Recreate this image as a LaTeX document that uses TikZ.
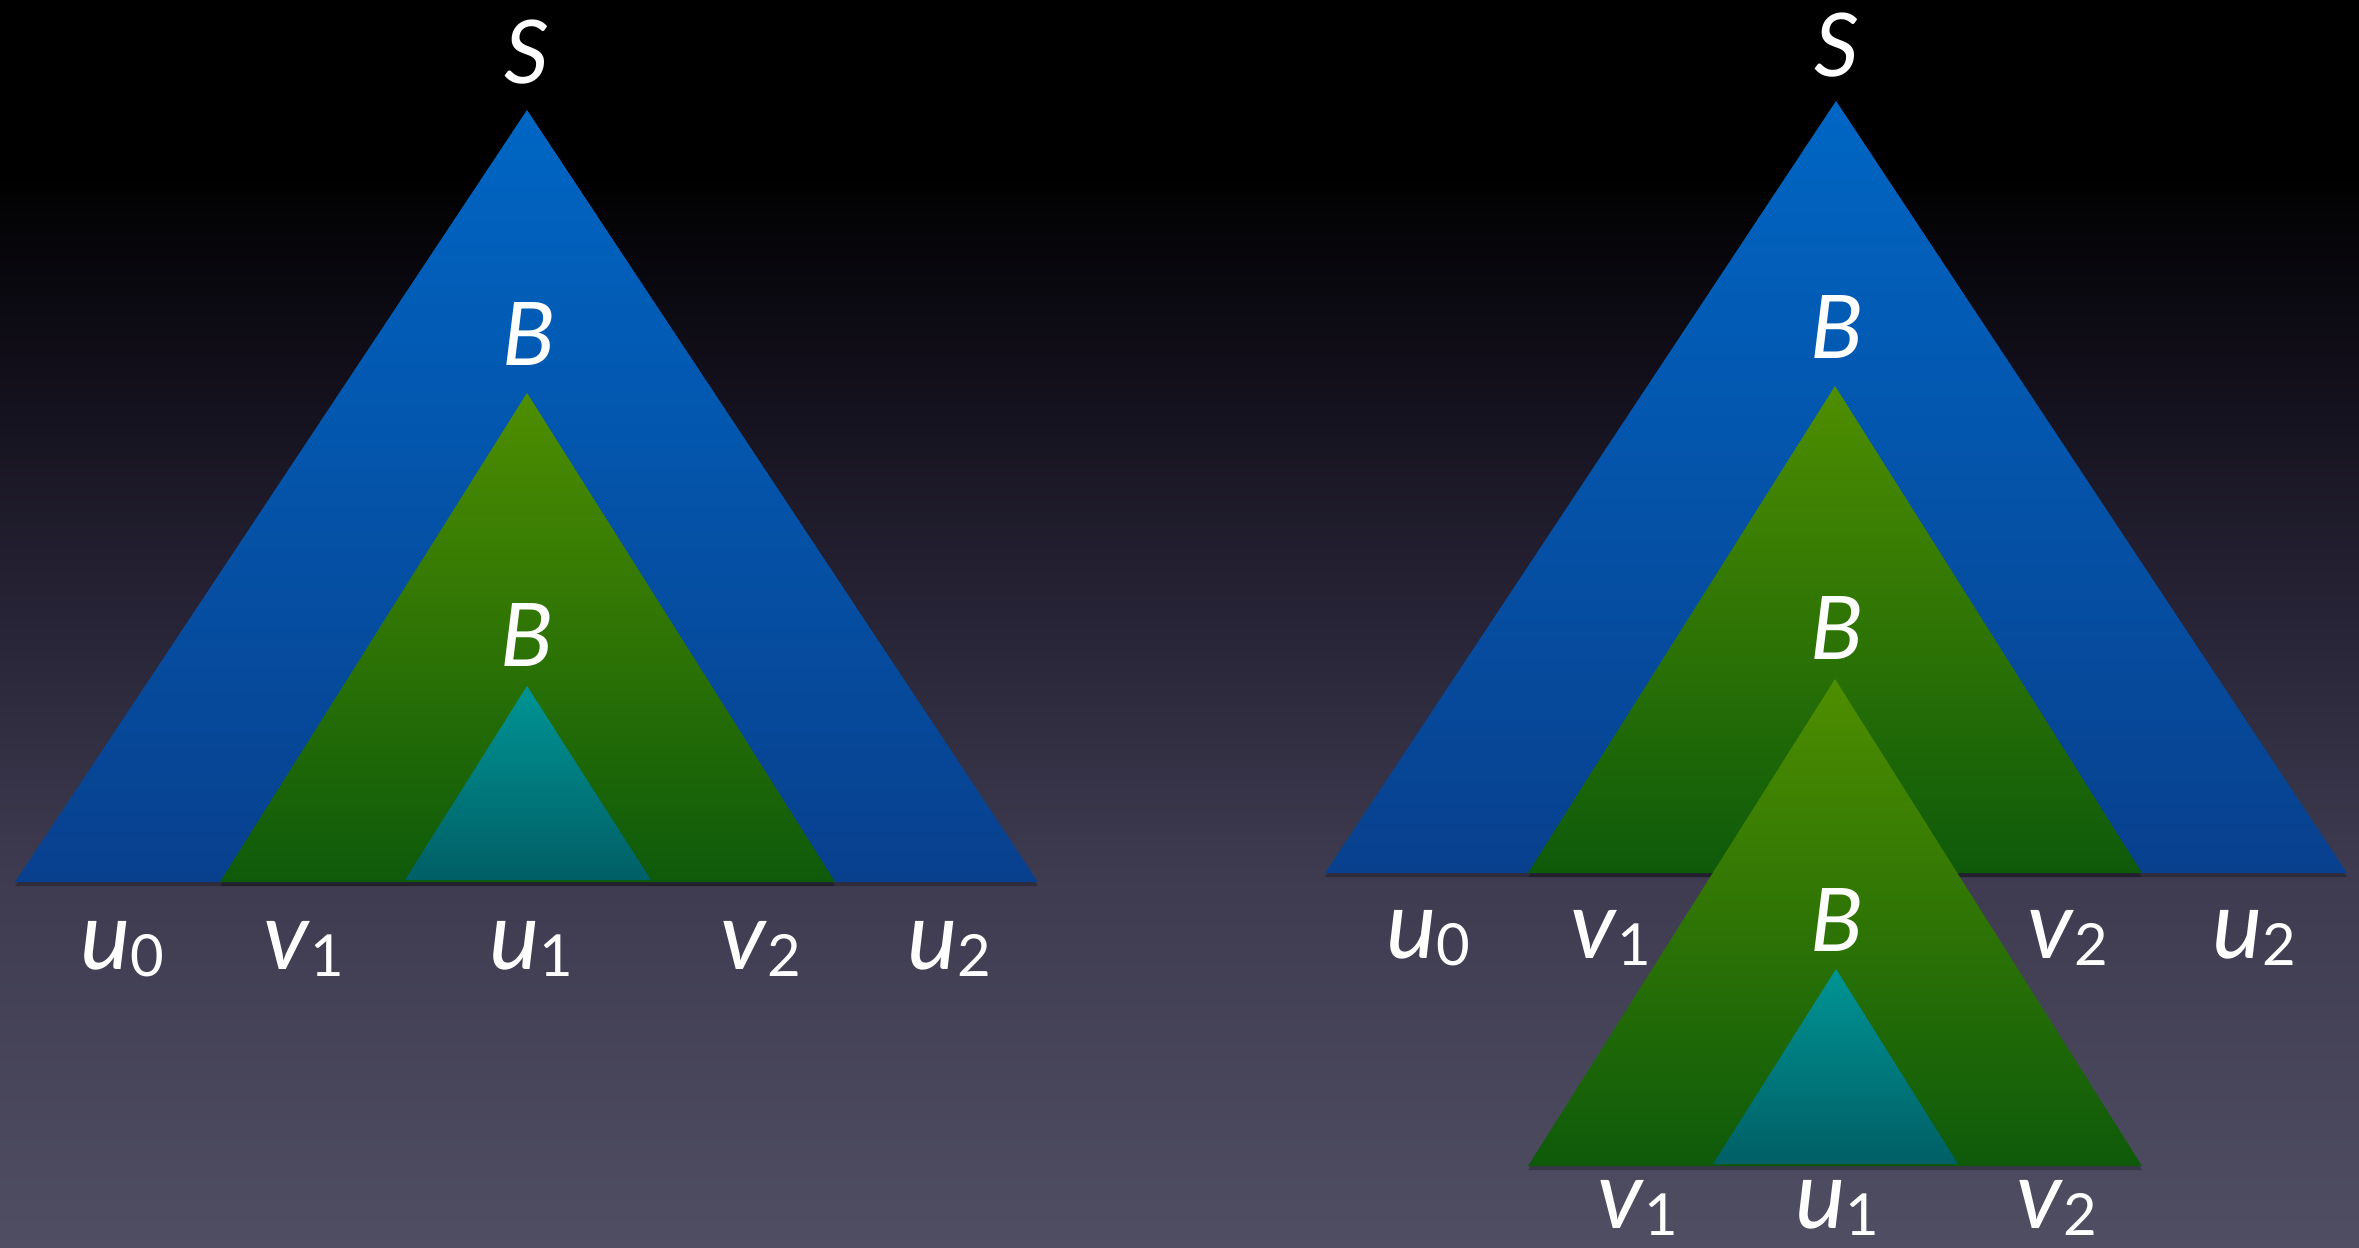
\documentclass[tikz,border=0pt]{standalone}
\usepackage{fontspec}
\setmainfont{Lato}
\usetikzlibrary{shadows}
\definecolor{bluetop}{RGB}{0,102,196}
\definecolor{bluebot}{RGB}{8,64,142}
\definecolor{greentop}{RGB}{78,142,0}
\definecolor{greenbot}{RGB}{14,90,10}
\definecolor{tealtop}{RGB}{0,148,148}
\definecolor{tealbot}{RGB}{0,95,102}
\definecolor{bgA}{RGB}{80,78,98}
\definecolor{bgB}{RGB}{62,59,80}
\definecolor{bgC}{RGB}{40,36,55}
\definecolor{bgD}{RGB}{18,15,27}
\pgfdeclareverticalshading{bgshade}{100bp}{color(0bp)=(bgA); color(25bp)=(bgA); color(40bp)=(bgB); color(50bp)=(bgC); color(60bp)=(bgD); color(68bp)=(black); color(100bp)=(black)}
\newcommand\biglbl{\fontsize{25}{30}\selectfont\itshape}
\newcommand\lbl[2]{{\fontsize{27}{32}\selectfont\textit{#1}\raisebox{-2pt}{\fontsize{16.5}{16.5}\selectfont #2}}}
\begin{document}
\begin{tikzpicture}[x=0.01cm,y=-0.01cm,
  tri/.style={draw=none, drop shadow={fill=black, opacity=0.25, shadow xshift=0pt, shadow yshift=-1.2pt}},
  bluetri/.style={tri, top color=bluetop, bottom color=bluebot},
  greentri/.style={tri, top color=greentop, bottom color=greenbot},
  tealtri/.style={draw=none, top color=tealtop, bottom color=tealbot},
  big/.style={text=white, inner sep=0pt, anchor=base, font=\biglbl},
  small/.style={text=white, inner sep=0pt, anchor=base}]
\shade[shading=bgshade] (0,0) rectangle (2359,1248);
\path[use as bounding box] (0,0) rectangle (2359,1248);
% ---------- left tree ----------
\path[bluetri] (527,110) -- (1038,882) -- (15,882) -- cycle;
\path[greentri] (527,393) -- (835,882) -- (220,882) -- cycle;
\path[tealtri] (527,686) -- (651,880) -- (405,880) -- cycle;
\node[big] (lS) at (527,83) {S};
\node[big] (lB1) at (529,365) {B};
\node[big] (lB2) at (527,666) {B};
\node[small] (lu0) at (122,969) {\lbl{u}{0}};
\node[small] (lv1) at (304,969) {\lbl{v}{1}};
\node[small] (lu1) at (531,969) {\lbl{u}{1}};
\node[small] (lv2) at (761,969) {\lbl{v}{2}};
\node[small] (lu2) at (949,969) {\lbl{u}{2}};
% ---------- right tree ----------
\path[bluetri] (1836,101) -- (2347,873) -- (1325,873) -- cycle;
\path[greentri] (1835,386) -- (2142,873) -- (1528,873) -- cycle;
\path[greentri] (1835,679) -- (2142,1166) -- (1528,1166) -- cycle;
\path[tealtri] (1836,969) -- (1958,1164) -- (1713,1164) -- cycle;
\node[big] (rS) at (1837,76) {S};
\node[big] (rB1) at (1837,358) {B};
\node[big] (rB2) at (1837,659) {B};
\node[big] (rB3) at (1837,951) {B};
\node[small] (ru0) at (1428,958) {\lbl{u}{0}};
\node[small] (rv1) at (1611,958) {\lbl{v}{1}};
\node[small] (rv2) at (2068,958) {\lbl{v}{2}};
\node[small] (ru2) at (2254,958) {\lbl{u}{2}};
\node[small] (rbv1) at (1638,1228) {\lbl{v}{1}};
\node[small] (rbu1) at (1837,1228) {\lbl{u}{1}};
\node[small] (rbv2) at (2057,1228) {\lbl{v}{2}};
\end{tikzpicture}
\end{document}
